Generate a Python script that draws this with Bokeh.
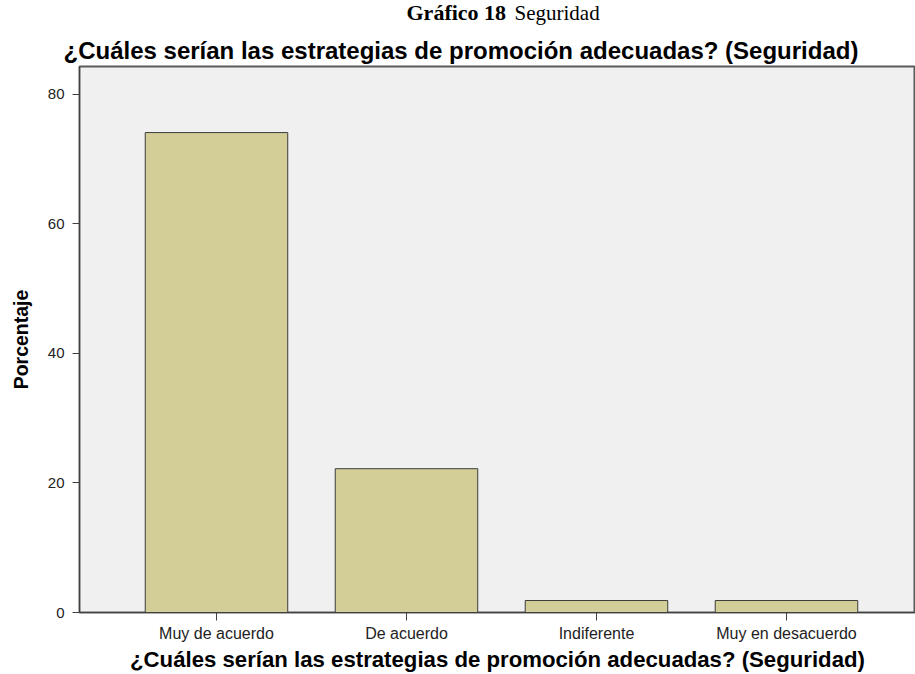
from bokeh.plotting import figure
from bokeh.layouts import column
from bokeh.models import Range1d, FixedTicker, Label
from bokeh.embed import file_html
from bokeh.resources import INLINE

# ---- data ----
categories = ["Muy de acuerdo", "De acuerdo", "Indiferente", "Muy en desacuerdo"]
percentages = [74.1, 22.2, 1.85, 1.85]
y_ticks = [0, 20, 40, 60, 80]
chart_title = "¿Cuáles serían las estrategias de promoción adecuadas? (Seguridad)"
x_title = "¿Cuáles serían las estrategias de promoción adecuadas? (Seguridad)"
y_title = "Porcentaje"
caption_bold = "Gráfico 18"
caption_regular = "Seguridad"

positions = list(range(len(categories)))
W = 915
STRIP_H = 26
MAIN_H = 648

# ---- top strip: caption (bold + regular parts) ----
top = figure(width=W, height=STRIP_H, x_range=Range1d(0, 1), y_range=Range1d(0, 1),
             output_backend="svg", toolbar_location=None, title_location=None,
             min_border=0, min_border_left=0, min_border_right=0,
             min_border_top=0, min_border_bottom=0)
top.xaxis.visible = False
top.yaxis.visible = False
top.grid.visible = False
top.outline_line_color = None
top.background_fill_color = "white"
top.border_fill_color = "white"
top.add_layout(Label(x=327, y=14, x_units="screen", y_units="screen",
                     text=caption_bold, text_align="left", text_baseline="alphabetic",
                     text_font="Liberation Serif", text_font_style="bold",
                     text_font_size="22px", text_color="black"))
top.add_layout(Label(x=435, y=14, x_units="screen", y_units="screen",
                     text=caption_regular, text_align="left", text_baseline="alphabetic",
                     text_font="Liberation Serif", text_font_style="normal",
                     text_font_size="21px", text_color="black"))

# ---- main chart ----
p = figure(
    width=W, height=MAIN_H,
    x_range=Range1d(-0.721, 3.679),
    y_range=Range1d(0, 84.3),
    output_backend="svg", toolbar_location=None,
    min_border_left=79, min_border_right=0,
    min_border_top=40, min_border_bottom=62,
)

p.vbar(x=positions, top=percentages, width=0.75,
       fill_color="#D3CE97", line_color="#3C3C3C", line_width=1)

p.title.text = chart_title
p.title.align = "left"
p.title.offset = -16
p.title.standoff = 5
p.title.text_font = "Liberation Sans"
p.title.text_font_style = "bold"
p.title.text_font_size = "24px"
p.title.text_color = "black"

p.background_fill_color = "#F0F0F0"
p.border_fill_color = "white"
p.outline_line_color = "#5A5A5A"
p.outline_line_width = 2
p.xgrid.visible = False
p.ygrid.visible = False

# x axis
p.xaxis.ticker = FixedTicker(ticks=positions)
p.xaxis.major_label_overrides = {i: c for i, c in zip(positions, categories)}
p.xaxis.major_tick_out = 8
p.xaxis.major_tick_in = 0
p.xaxis.minor_tick_out = 0
p.xaxis.minor_tick_in = 0
p.xaxis.axis_line_color = "#404040"
p.xaxis.major_tick_line_color = "#404040"
p.xaxis.major_label_text_font = "Liberation Sans"
p.xaxis.major_label_text_font_size = "16px"
p.xaxis.major_label_text_color = "#222222"
p.xaxis.major_label_standoff = 4
p.xaxis.axis_label = x_title
p.xaxis.axis_label_text_font = "Liberation Sans"
p.xaxis.axis_label_text_font_style = "bold"
p.xaxis.axis_label_text_font_size = "22.2px"
p.xaxis.axis_label_text_color = "black"
p.xaxis.axis_label_standoff = 2

# y axis
p.yaxis.ticker = FixedTicker(ticks=y_ticks)
p.yaxis.major_tick_out = 7
p.yaxis.major_tick_in = 0
p.yaxis.minor_tick_out = 0
p.yaxis.minor_tick_in = 0
p.yaxis.axis_line_color = "#404040"
p.yaxis.major_tick_line_color = "#404040"
p.yaxis.major_label_text_font = "Liberation Sans"
p.yaxis.major_label_text_font_size = "15px"
p.yaxis.major_label_text_color = "#222222"
p.yaxis.major_label_standoff = 8
p.yaxis.axis_label = y_title
p.yaxis.axis_label_text_font = "Liberation Sans"
p.yaxis.axis_label_text_font_style = "bold"
p.yaxis.axis_label_text_font_size = "19.5px"
p.yaxis.axis_label_text_color = "black"
p.yaxis.axis_label_standoff = 13

layout = column(top, p, spacing=0)
open("out.html", "w").write(file_html(layout, INLINE))
